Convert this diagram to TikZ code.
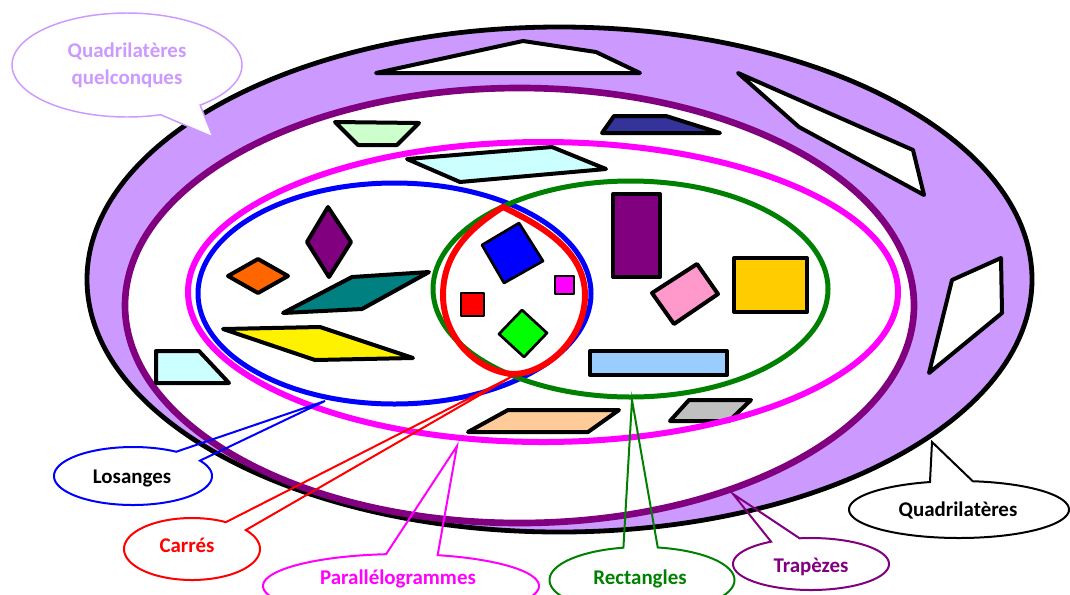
\documentclass[tikz,border=0pt]{standalone}
\usepackage{fontspec}
\setmainfont{Carlito}
\definecolor{lav}{HTML}{CC99FF}
\definecolor{dpurple}{HTML}{800080}
\definecolor{mag}{HTML}{FF00FF}
\definecolor{dgreen}{HTML}{008000}
\definecolor{lgreen}{HTML}{CCFFCC}
\definecolor{lcyan}{HTML}{CCFFFF}
\definecolor{navy}{HTML}{333399}
\definecolor{peach}{HTML}{FFCC99}
\definecolor{lgray}{HTML}{C0C0C0}
\definecolor{orng}{HTML}{FF6600}
\definecolor{teal}{HTML}{008080}
\definecolor{pink}{HTML}{FF99CC}
\definecolor{gold}{HTML}{FFCC00}
\definecolor{lblue}{HTML}{99CCFF}
\definecolor{lime}{HTML}{00FF00}
\begin{document}
\begin{tikzpicture}[x=0.75pt,y=-0.75pt,
  qshape/.style={draw=black,line width=3pt,line join=round},
  thinshape/.style={draw=black,line width=2pt,line join=round},
  ring/.style={line width=#1},
  callout/.style={draw=#1,line width=1.5pt,line join=miter},
  lab/.style={font=\fontsize{15.7}{20.25}\selectfont\bfseries,anchor=base,inner sep=0pt}]
\useasboundingbox (0,0) rectangle (1070,594);

% outer rings
\draw[ring=3.6pt, draw=black, fill=lav] (559.5,279.5) ellipse [x radius=472.5, y radius=252.5];
\draw[ring=5pt, draw=dpurple, fill=white] (519.5,305.5) ellipse [x radius=394.5, y radius=217.5];

% shapes in the lavender band
\draw[qshape, fill=white] (376,73) -- (523,41) -- (596,52) -- (640,73) -- cycle;
\draw[qshape, fill=white] (738,73) -- (913,150) -- (924,195) -- (799,127) -- cycle;
\draw[qshape, fill=white] (952,280) -- (1001,258) -- (1002,313) -- (929,373) -- cycle;

% shapes between purple and magenta
\draw[qshape, fill=lgreen] (335,122) -- (419,123) -- (397,145) -- (358,145) -- cycle;
\draw[qshape, fill=navy] (602,133) -- (614,116) -- (666,116) -- (720,133) -- cycle;
\draw[qshape, fill=lcyan] (156,351) -- (199,351) -- (229,383) -- (156,383) -- cycle;
\draw[qshape, fill=lcyan] (407,159) -- (552,147) -- (606,169) -- (460,182) -- cycle;
\draw[qshape, fill=peach] (468,432) -- (508,410) -- (619,410) -- (588,432) -- cycle;
\draw[qshape, fill=lgray] (670,421) -- (689,400) -- (751,400) -- (729,421) -- cycle;

% set ellipses
\draw[ring=4.5pt, draw=mag] (543,292) ellipse [x radius=355, y radius=150];
\draw[ring=3.75pt, draw=blue] (394.5,293.5) ellipse [x radius=196.5, y radius=110.5];
\draw[ring=3.75pt, draw=dgreen] (630.5,289) ellipse [x radius=197.5, y radius=108];
\draw[ring=4.5pt, draw=red, line join=round]
  (503,207) .. controls (540,225) and (585,250) .. (585,295)
  .. controls (585,340) and (545,374) .. (513,374)
  .. controls (480,372) and (443,340) .. (443,295)
  .. controls (443,250) and (475,225) .. (503,207) -- cycle;

% rhombi and parallelograms
\draw[qshape, fill=dpurple] (328,207) -- (351,242) -- (329,277) -- (307,242) -- cycle;
\draw[qshape, fill=orng] (228,276) -- (258,259) -- (288,276) -- (258,293) -- cycle;
\draw[qshape, fill=teal] (283,313) -- (352,277) -- (429,272) -- (362,309) -- cycle;
\draw[qshape, fill=yellow] (223,329) -- (320,327) -- (413,358) -- (315,360) -- cycle;

% squares
\draw[thinshape, fill=blue] (482,245) -- (519,223) -- (543,261) -- (504,283) -- cycle;
\draw[thinshape, line width=1.5pt, fill=mag] (555,276) rectangle (574,294);
\draw[thinshape, fill=red] (461,293) rectangle (484,316);
\draw[thinshape, fill=lime] (499,334) -- (522,310) -- (547,333) -- (524,357) -- cycle;

% rectangles
\draw[qshape, fill=dpurple] (613,194) rectangle (660,277);
\draw[qshape, fill=pink] (652,293) -- (697,264) -- (718,294) -- (674,324) -- cycle;
\draw[qshape, fill=gold] (734,258) rectangle (807,312);
\draw[qshape, fill=lblue] (590,351) rectangle (727,375);

% callouts
\draw[callout=lav, line width=1.1pt, fill=white]
  plot[domain=73:410.5, samples=140] ({127+115*cos(\x)},{65+52*sin(\x)}) -- (213,137) -- cycle;
\node[lab, anchor=center, align=center, text=lav] (tquel) at (127,65) {Quadrilatères\\quelconques};

\draw[callout=blue]
  plot[domain=-32:303.2, samples=140] ({133+79*cos(\x)},{476+29*sin(\x)}) -- (325,401) -- cycle;
\node[lab, text=black] (tlos) at (132,483) {Losanges};

\draw[callout=red]
  plot[domain=-37.7:299.9, samples=140] ({192+68*cos(\x)},{549+31*sin(\x)}) -- (511,377) -- cycle;
\node[lab, text=red] (tcar) at (187,552) {Carrés};

\draw[callout=mag]
  plot[domain=-74.6:263.8, samples=160] ({401+138*cos(\x)},{586+32*sin(\x)}) -- (457,446) -- cycle;
\node[lab, text=mag] (tpar) at (398,584) {Parallélogrammes};

\draw[callout=dgreen]
  plot[domain=-80.2:258.4, samples=140] ({642+92.5*cos(\x)},{580+33*sin(\x)}) -- (632,400) -- cycle;
\node[lab, text=dgreen] (trec) at (640,584) {Rectangles};

\draw[callout=dpurple]
  plot[domain=-98.4:239.2, samples=140] ({811+78*cos(\x)},{564+26*sin(\x)}) -- (733,494) -- cycle;
\node[lab, text=dpurple] (ttra) at (811,572) {Trapèzes};

\draw[callout=black]
  plot[domain=-82.8:254.7, samples=140] ({959+110*cos(\x)},{509.5+28.5*sin(\x)}) -- (932,442) -- cycle;
\node[lab, text=black] (tqua) at (958,516) {Quadrilatères};
\end{tikzpicture}
\end{document}
